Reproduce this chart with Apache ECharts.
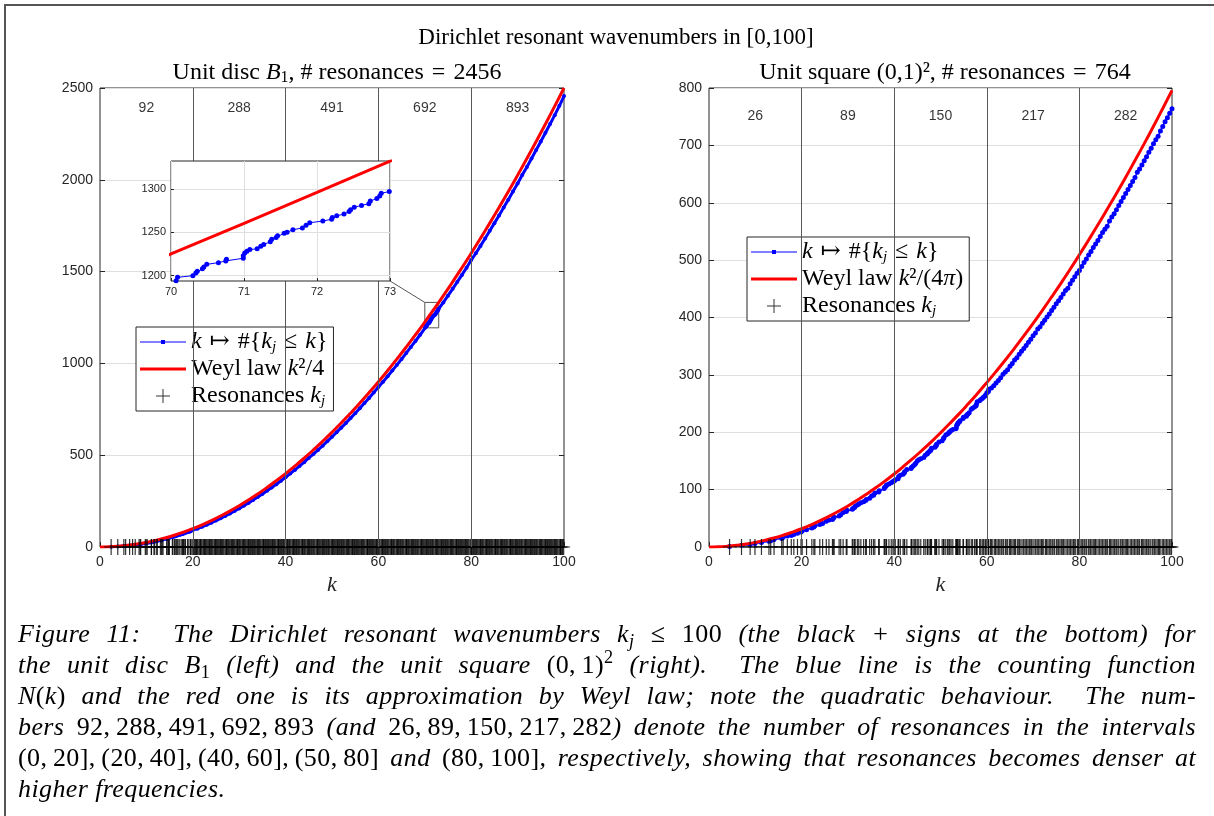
<!DOCTYPE html>
<html>
<head>
<meta charset="utf-8">
<title>Dirichlet resonant wavenumbers</title>
<script src="https://cdn.jsdelivr.net/npm/echarts@6/dist/echarts.min.js"></script>
<style>
  html, body { margin: 0; padding: 0; background: #fff; overflow: hidden; }
  #frame { position: absolute; left: 4px; top: 4px; width: 1400px; height: 1000px;
           border-left: 2px solid #555; border-top: 2px solid #555; }
  #chart { position: absolute; left: 0; top: 0; width: 1214px; height: 816px; }
  #caption { position: absolute; left: 18px; top: 618px; width: 1178px;
             font-family: 'Liberation Serif', 'DejaVu Serif', serif; font-style: italic;
             font-size: 26px; letter-spacing: 0.4px; line-height: 31px; color: #000; }
  #caption .ln { text-align: justify; text-align-last: justify; }
  #caption .ln.last { text-align: left; text-align-last: left; }
  #caption .m { font-style: normal; }
  #caption sub, #caption sup { font-size: 70%; line-height: 0; }
  #caption sub { vertical-align: -0.25em; }
  #caption sup { vertical-align: 0.55em; }
</style>
</head>
<body>
<div id="frame"></div>
<div id="chart"></div>
<div id="caption">
  <div class="ln">Figure 11:&nbsp; The Dirichlet resonant wavenumbers k<sub>j</sub> <span class="m">&le; 100</span> (the black + signs at the bottom) for</div>
  <div class="ln">the unit disc B<sub class="m">1</sub> (left) and the unit square <span class="m">(0,&thinsp;1)<sup>2</sup></span> (right).&nbsp; The blue line is the counting function</div>
  <div class="ln">N<span class="m">(</span>k<span class="m">)</span> and the red one is its approximation by Weyl law; note the quadratic behaviour.&nbsp; The num-</div>
  <div class="ln">bers <span class="m">92,&thinsp;288,&thinsp;491,&thinsp;692,&thinsp;893</span> (and <span class="m">26,&thinsp;89,&thinsp;150,&thinsp;217,&thinsp;282</span>) denote the number of resonances in the intervals</div>
  <div class="ln"><span class="m">(0,&thinsp;20],&thinsp;(20,&thinsp;40],&thinsp;(40,&thinsp;60],&thinsp;(50,&thinsp;80]</span> and <span class="m">(80,&thinsp;100]</span>, respectively, showing that resonances becomes denser at</div>
  <div class="ln last">higher frequencies.</div>
</div>
<script>
// counts per interval, written at the top of each panel
var bandMid = [10, 30, 50, 70, 90];
var bandEdges = [20, 40, 60, 80];
var discCounts = [92, 288, 491, 692, 893];
var squareCounts = [26, 89, 150, 217, 282];

// Weyl law curves (red)
var weylK = [0,2,4,6,8,10,12,14,16,18,20,22,24,26,28,30,32,34,36,38,40,42,44,46,48,50,
  52,54,56,58,60,62,64,66,68,70,72,74,76,78,80,82,84,86,88,90,92,94,96,98,100];
var weylDisc = [0,1,4,9,16,25,36,49,64,81,100,121,144,169,196,225,256,289,324,361,400,441,484,529,576,625,
  676,729,784,841,900,961,1024,1089,1156,1225,1296,1369,1444,1521,1600,1681,1764,1849,1936,2025,2116,2209,2304,2401,2500];
var weylSquare = [0,0.3,1.3,2.9,5.1,8.0,11.5,15.6,20.4,25.8,31.8,38.5,45.8,53.8,62.4,71.6,81.5,92.0,103.1,114.9,127.3,
  140.4,154.1,168.4,183.3,198.9,215.2,232.0,249.6,267.7,286.5,305.9,325.9,346.6,368.0,389.9,412.5,435.8,459.6,484.1,
  509.3,535.1,561.5,588.6,616.2,644.6,673.5,703.1,733.4,764.2,795.8];

// unit disc: separate resonances up to k=20 and their running count
var discRes = [2.40,3.83,5.14,5.52,6.38,7.02,7.59,8.42,8.65,8.77,9.76,9.94,10.17,11.07,11.09,11.62,11.79,12.23,12.34,
  13.02,13.32,13.35,13.59,14.37,14.48,14.80,14.82,14.93,15.59,15.70,16.04,16.22,16.47,16.70,17.00,17.24,17.62,17.80,
  17.96,18.07,18.29,18.43,18.90,18.98,19.41,19.55,19.62,19.99];
var discResN = [1,3,5,6,8,10,12,14,15,17,19,21,23,25,27,29,30,32,34,36,38,40,42,44,46,48,50,51,53,55,57,59,61,63,65,
  67,69,71,73,74,76,78,80,82,84,86,90,92];
// counting function read further along the curve (70..73 read in the zoom)
var discTailK = [21,22,23,24,25,26,27,28,29,30,31,32,33,34,35,36,37,38,39,40,41,42,43,44,45,46,47,48,49,50,
  51,52,53,54,55,56,57,58,59,60,61,62,63,64,65,66,67,68,69,
  70.07,70.09,70.30,70.34,70.36,70.43,70.45,70.49,70.65,70.75,70.76,70.99,70.99,71.01,71.04,71.08,71.18,71.23,71.27,
  71.36,71.38,71.44,71.46,71.55,71.59,71.67,71.80,71.85,71.90,72.08,72.20,72.21,72.27,72.37,72.44,72.46,72.51,72.61,
  72.71,72.73,72.82,72.86,72.88,72.99,
  74,75,76,77,78,79,80,81,82,83,84,85,86,87,88,89,90,91,92,93,94,95,96,97,98,99,100];
var discTailN = [100,110,121,132,144,156,169,182,196,210,225,240,256,272,289,306,324,342,361,380,400,420,441,462,485,
  506,529,552,576,600,625,650,675,702,729,756,784,812,841,871,900,930,961,992,1024,1056,1090,1122,1156,
  1194,1198,1200,1203,1205,1208,1210,1213,1215,1217,1219,1220,1223,1226,1228,1230,1231,1234,1236,1239,1242,1244,
  1246,1249,1250,1253,1255,1258,1261,1263,1265,1267,1269,1271,1274,1276,1279,1281,1283,1286,1289,1292,1295,1297,
  1332,1369,1406,1444,1482,1521,1563,1600,1640,1680,1722,1764,1806,1849,1892,1936,1980,2026,2070,2116,2162,2209,
  2256,2304,2352,2403,2456];
// marks in the solid strip past k=20
var discResTail = [20.3,20.7,21.0,21.5,21.8,22.3,22.6,23.0,23.5,23.8,24.2,24.7,25.0,25.4,25.9,26.2,26.6,27.1,27.4,27.8,
  28.3,28.6,29.0,29.5,29.8,30.2,30.7,31.0,31.4,31.9,32.2,32.6,33.0,33.4,33.9,34.2,34.6,35.1,35.4,35.8,36.2,36.6,37.1,
  37.4,37.8,38.3,38.6,39.0,39.4,39.8,40.3,40.6,41.0,41.5,41.8,42.2,42.6,43.0,43.5,43.8,44.2,44.7,45.0,45.4,45.8,46.2,
  46.7,47.0,47.4,47.9,48.2,48.6,49.0,49.4,49.9,50.2,50.6,51.1,51.4,51.8,52.2,52.6,53.1,53.4,53.8,54.3,54.6,55.0,55.4,
  55.8,56.3,56.6,57.0,57.5,57.8,58.2,58.6,59.0,59.5,59.8,60.2,60.7,61.0,61.4,61.8,62.2,62.7,63.0,63.4,63.9,64.2,64.6,
  65.0,65.4,65.9,66.2,66.6,67.1,67.4,67.8,68.2,68.6,69.1,69.4,69.8,70.3,70.6,71.0,71.4,71.8,72.3,72.6,73.0,73.5,73.8,
  74.2,74.6,75.0,75.5,75.8,76.2,76.7,77.0,77.4,77.8,78.2,78.7,79.0,79.4,79.9,80.2,80.6,81.0,81.4,81.9,82.2,82.6,83.1,
  83.4,83.8,84.2,84.6,85.1,85.4,85.8,86.3,86.6,87.0,87.4,87.8,88.3,88.6,89.0,89.5,89.8,90.2,90.6,91.0,91.5,91.8,92.2,
  92.7,93.0,93.4,93.8,94.2,94.7,95.0,95.4,95.9,96.2,96.6,97.0,97.4,97.9,98.2,98.6,99.1,99.4,99.8];

// unit square: separate resonances up to k=60 and their running count
var squareRes = [4.44,7.02,8.89,9.93,11.33,12.95,13.33,14.05,15.71,16.02,16.92,17.77,18.32,19.11,19.87,20.12,21.07,
  22.21,22.65,22.87,23.93,24.54,25.33,25.91,26.66,26.84,27.03,28.10,28.45,28.97,29.64,29.80,30.94,31.10,31.42,31.57,
  32.04,32.35,32.80,33.40,33.84,33.98,34.70,35.12,35.54,35.82,36.64,36.77,37.83,37.96,38.22,38.35,38.86,39.36,39.74,
  39.99,40.23,40.84,40.96,41.32,41.91,42.15,42.27,42.73,43.64,43.76,44.09,44.43,44.65,44.98,45.31,45.74,46.38,46.70,
  47.12,47.23,47.54,47.85,47.95,48.06,48.77,48.87,49.07,49.17,49.67,50.36,50.66,50.75,51.14,51.53,51.81,52.00,52.29,
  52.66,53.31,53.41,53.50,53.68,53.78,54.05,54.23,54.87,54.96,55.58,55.67,55.93,56.20,56.64,56.90,57.33,57.67,57.76,
  57.93,58.44,58.69,59.02,59.28,59.61,59.77,60.02,60.35,60.43];
var squareResN = [1,3,4,6,8,10,11,13,15,17,19,20,22,24,26,28,30,33,35,37,39,41,45,47,48,50,52,54,56,60,62,64,66,67,69,
  71,73,75,77,79,81,83,85,89,90,94,96,98,102,104,106,108,110,112,114,115,117,119,123,125,127,129,131,135,137,139,141,
  144,146,150,152,154,156,160,162,164,166,168,170,172,174,175,177,179,183,185,189,191,195,197,199,201,203,205,206,208,
  212,214,216,218,220,224,226,228,230,232,234,240,242,244,246,249,253,255,257,259,261,263,265,269,271,275];
var squareTailK = [61,61.5,62,62.5,63,63.5,64,64.5,65,65.5,66,66.5,67,67.5,68,68.5,69,69.5,70,70.5,71,71.5,72,72.5,
  73,73.5,74,74.5,75,75.5,76,76.5,77,77.5,78,78.5,79,79.5,80,80.5,81,81.5,82,82.5,83,83.5,84,84.5,85,85.5,86,86.5,
  87,87.5,88,88.5,89,89.5,90,90.5,91,91.5,92,92.5,93,93.5,94,94.5,95,95.5,96,96.5,97,97.5,98,98.5,99,99.5,100];
var squareTailN = [277,281,286,290,295,301,305,309,315,320,326,330,336,341,346,351,357,362,368,373,380,384,390,395,
  401,406,412,418,424,429,435,441,447,451,459,465,471,477,482,489,496,502,509,515,522,528,534,541,548,554,559,568,
  575,581,588,595,602,609,616,623,630,637,644,653,659,666,673,680,688,695,703,710,716,725,733,741,748,756,764];
var squareResTail = [60.8,61.0,61.3,61.7,61.9,62.2,62.5,62.8,63.1,63.3,63.6,64.0,64.2,64.5,64.9,65.1,65.4,65.7,66.0,
  66.2,66.6,66.9,67.1,67.4,67.8,68.0,68.3,68.6,68.9,69.2,69.5,69.7,70.0,70.4,70.6,70.9,71.2,71.5,71.8,72.0,72.3,72.7,
  72.9,73.2,73.5,73.8,74.1,74.3,74.6,75.0,75.2,75.5,75.8,76.1,76.4,76.6,76.9,77.3,77.5,77.8,78.1,78.4,78.7,78.9,79.2,
  79.6,79.8,80.1,80.4,80.7,81.0,81.2,81.5,81.9,82.1,82.4,82.7,83.0,83.3,83.5,83.8,84.2,84.4,84.7,85.0,85.3,85.6,85.8,
  86.1,86.5,86.7,87.0,87.3,87.6,87.9,88.1,88.4,88.8,89.0,89.3,89.6,89.9,90.2,90.4,90.7,91.1,91.3,91.6,91.9,92.2,92.5,
  92.7,93.0,93.4,93.6,93.9,94.2,94.5,94.8,95.0,95.3,95.7,95.9,96.2,96.5,96.8,97.1,97.3,97.6,98.0,98.2,98.5,98.8,99.1,
  99.4,99.6,99.9];

// zoom window of the inset: k from 70 to 73, N from 1193.8 to 1332.25
var insetBox = [70, 73, 1193.8, 1332.25];

var SERIF = "'Liberation Serif', 'DejaVu Serif', serif";
var SANS = "'Liberation Sans', Arial, sans-serif";
var AXC = '#262626';
var REL = '\u2004'; // wider space around relations, as in the LaTeX labels

function zip(a, b) {
  return a.map(function (v, i) { return [v, b[i]]; });
}
function sum(a) {
  return a.reduce(function (s, v) { return s + v; }, 0);
}
function plain(v) {
  return String(v);
}

var discBlue = zip(discRes, discResN).concat(zip(discTailK, discTailN));
var squareBlue = zip(squareRes, squareResN).concat(zip(squareTailK, squareTailN));

function xMain(grid) {
  return {
    type: 'value', gridIndex: grid, min: 0, max: 100, interval: 20,
    name: 'k', nameLocation: 'middle', nameGap: 27,
    nameTextStyle: { fontFamily: SERIF, fontStyle: 'italic', fontSize: 22, color: AXC },
    axisLine: { show: false },
    axisTick: { inside: true, length: 5, lineStyle: { color: AXC } },
    axisLabel: { margin: 8, fontFamily: SANS, fontSize: 14, color: AXC, formatter: plain },
    splitLine: { show: false }
  };
}
function yMain(grid, max, step, side) {
  return {
    type: 'value', gridIndex: grid, min: 0, max: max, interval: step, position: side,
    axisLine: { show: false },
    axisTick: { inside: true, length: 5, lineStyle: { color: AXC } },
    axisLabel: { show: side === 'left', margin: 7, fontFamily: SANS, fontSize: 14, color: AXC, formatter: plain },
    splitLine: { show: side === 'left', lineStyle: { color: '#dfdfdf' } }
  };
}

function bandSeries(xi, yi, counts, yPos) {
  return {
    type: 'scatter', xAxisIndex: xi, yAxisIndex: yi, silent: true, z: 2,
    data: bandMid.map(function (k, i) { return [k, yPos, counts[i]]; }),
    symbolSize: 1, itemStyle: { color: 'rgba(0,0,0,0)' },
    label: {
      show: true, position: 'inside', color: '#000', fontFamily: SANS, fontSize: 14,
      formatter: function (p) { return p.value[2]; }
    },
    markLine: {
      silent: true, symbol: ['none', 'none'], label: { show: false },
      lineStyle: { color: '#595959', width: 1, type: 'solid' },
      data: bandEdges.map(function (k) { return { xAxis: k }; })
    }
  };
}

// black + marks at the bottom: a vertical bar and a horizontal arm per resonance
function plusSeries(name, xi, yi, ks, w) {
  var pts = ks.map(function (k) { return [k, 0]; });
  return [
    { type: 'scatter', name: name, xAxisIndex: xi, yAxisIndex: yi, data: pts, silent: true, clip: false, z: 4,
      symbol: 'rect', symbolSize: [w, 16], itemStyle: { color: '#000' } },
    { type: 'scatter', name: name, xAxisIndex: xi, yAxisIndex: yi, data: pts, silent: true, clip: false, z: 4,
      symbol: 'rect', symbolSize: [14, 1], itemStyle: { color: '#000' } }
  ];
}

var legendRich = {
  i: { fontFamily: SERIF, fontStyle: 'italic', fontSize: 24, lineHeight: 26, color: '#000' },
  s: { fontFamily: SERIF, fontStyle: 'italic', fontSize: 15, lineHeight: 15, verticalAlign: 'bottom', color: '#000' }
};
var countText = '{i|k}' + REL + '\u21A6' + REL + '#{{i|k}{s|j}' + REL + '\u2264' + REL + '{i|k}}';
var legendText = {
  countDisc: countText,
  countSquare: countText,
  weylDisc: 'Weyl law {i|k}\u00B2/4',
  weylSquare: 'Weyl law {i|k}\u00B2/(4{i|\u03C0})',
  resDisc: 'Resonances {i|k}{s|j}',
  resSquare: 'Resonances {i|k}{s|j}'
};
var blueIcon = 'path://M0,6.5h46v1h-46z M21,5h4v4h-4z';
var redIcon = 'path://M0,0h46v3h-46z';
var plusIcon = 'path://M6.5,0h1v14h-1z M0,6.5h14v1h-14z';

function legendBox(left, top, names) {
  return {
    left: left, top: top, orient: 'vertical', selectedMode: false,
    itemWidth: 46, itemHeight: 14, itemGap: 1, padding: [2, 6, 2, 4],
    backgroundColor: '#fff', borderColor: AXC, borderWidth: 1, borderRadius: 0,
    itemStyle: { borderWidth: 0 },
    data: [
      { name: names[0], icon: blueIcon },
      { name: names[1], icon: redIcon },
      { name: names[2], icon: plusIcon }
    ],
    formatter: function (n) { return legendText[n]; },
    textStyle: { fontFamily: SERIF, fontSize: 24, lineHeight: 26, color: '#000', rich: legendRich }
  };
}

var titleRich = {
  i: { fontFamily: SERIF, fontStyle: 'italic', fontSize: 24, lineHeight: 26, color: '#000' },
  s: { fontFamily: SERIF, fontSize: 16, lineHeight: 16, verticalAlign: 'bottom', color: '#000' }
};
var mainTitleStyle = { fontFamily: SERIF, fontSize: 23, lineHeight: 26, fontWeight: 'normal', color: '#000' };
var subTitleStyle = { fontFamily: SERIF, fontSize: 24, lineHeight: 26, fontWeight: 'normal', color: '#000', rich: titleRich };

var chart = echarts.init(document.getElementById('chart'));

var option = {
  animation: false,
  backgroundColor: 'transparent',
  title: [
    { text: 'Dirichlet resonant wavenumbers in [0,100]', left: 611, top: 20, textAlign: 'center', textStyle: mainTitleStyle },
    { text: 'Unit disc {i|B}{s|1}, # resonances' + REL + '=' + REL + sum(discCounts),
      left: 332, top: 55, textAlign: 'center', textStyle: subTitleStyle },
    { text: 'Unit square (0,1)\u00B2, # resonances' + REL + '=' + REL + sum(squareCounts),
      left: 940, top: 55, textAlign: 'center', textStyle: subTitleStyle }
  ],
  legend: [
    legendBox(136, 327, ['countDisc', 'weylDisc', 'resDisc']),
    legendBox(747, 237, ['countSquare', 'weylSquare', 'resSquare'])
  ],
  grid: [
    { left: 100, top: 88, width: 464, height: 459, show: true, borderColor: AXC, borderWidth: 1, backgroundColor: 'transparent' },
    { left: 171, top: 161, width: 219, height: 120, show: true, borderColor: AXC, borderWidth: 1, backgroundColor: '#fff', zlevel: 1 },
    { left: 709, top: 88, width: 463, height: 459, show: true, borderColor: AXC, borderWidth: 1, backgroundColor: 'transparent' }
  ],
  xAxis: [
    xMain(0),
    {
      type: 'value', gridIndex: 1, min: insetBox[0], max: insetBox[1], interval: 1, zlevel: 1,
      axisLine: { show: false },
      axisTick: { inside: true, length: 3, lineStyle: { color: AXC } },
      axisLabel: { margin: 5, fontFamily: SANS, fontSize: 11, color: AXC, formatter: plain },
      splitLine: { show: true, lineStyle: { color: '#dfdfdf' } }
    },
    xMain(2)
  ],
  yAxis: [
    yMain(0, 2500, 500, 'left'),
    {
      type: 'value', gridIndex: 1, min: insetBox[2], max: insetBox[3], zlevel: 1,
      axisLine: { show: false },
      axisTick: { inside: true, length: 3, customValues: [1200, 1250, 1300], lineStyle: { color: AXC } },
      axisLabel: { margin: 5, customValues: [1200, 1250, 1300], fontFamily: SANS, fontSize: 11, color: AXC, formatter: plain },
      splitLine: { show: true, lineStyle: { color: '#dfdfdf' } }
    },
    yMain(2, 800, 100, 'left'),
    yMain(0, 2500, 500, 'right'),
    yMain(2, 800, 100, 'right')
  ],
  series: [
    bandSeries(0, 0, discCounts, 2391),
    {
      type: 'line', name: 'countDisc', xAxisIndex: 0, yAxisIndex: 0, data: discBlue, z: 2,
      symbol: 'circle', symbolSize: 4, showSymbol: true, clip: true,
      lineStyle: { width: 3, color: '#0000ff' }, itemStyle: { color: '#0000ff' }
    },
    {
      type: 'line', name: 'weylDisc', xAxisIndex: 0, yAxisIndex: 0, data: zip(weylK, weylDisc), z: 3,
      smooth: true, symbol: 'none', clip: true,
      lineStyle: { width: 3, color: '#ff0000' }, itemStyle: { color: '#ff0000' },
      markArea: {
        silent: true, label: { show: false },
        itemStyle: { color: 'rgba(0,0,0,0)', borderColor: '#555', borderWidth: 1 },
        data: [[{ coord: [insetBox[0], insetBox[2]] }, { coord: [insetBox[1], insetBox[3]] }]]
      }
    }
  ]
  .concat(plusSeries('resDisc', 0, 0, discRes, 1.2))
  .concat(plusSeries('resDisc', 0, 0, discResTail, 2.4))
  .concat([
    {
      type: 'line', name: 'insetCount', xAxisIndex: 1, yAxisIndex: 1, data: discBlue, zlevel: 1, z: 2,
      symbol: 'circle', symbolSize: 5, clip: true,
      lineStyle: { width: 1, color: '#0000ff' }, itemStyle: { color: '#0000ff' }
    },
    {
      type: 'line', name: 'insetWeyl', xAxisIndex: 1, yAxisIndex: 1, data: zip(weylK, weylDisc), zlevel: 1, z: 3,
      smooth: true, symbol: 'none', clip: true,
      lineStyle: { width: 3, color: '#ff0000' }, itemStyle: { color: '#ff0000' }
    },
    bandSeries(2, 2, squareCounts, 751),
    {
      type: 'line', name: 'countSquare', xAxisIndex: 2, yAxisIndex: 2, data: squareBlue, z: 2,
      symbol: 'circle', symbolSize: 5, showSymbol: true, clip: true,
      lineStyle: { width: 1.5, color: '#0000ff' }, itemStyle: { color: '#0000ff' }
    },
    {
      type: 'line', name: 'weylSquare', xAxisIndex: 2, yAxisIndex: 2, data: zip(weylK, weylSquare), z: 3,
      smooth: true, symbol: 'none', clip: true,
      lineStyle: { width: 3, color: '#ff0000' }, itemStyle: { color: '#ff0000' }
    }
  ])
  .concat(plusSeries('resSquare', 2, 2, squareRes, 1.2))
  .concat(plusSeries('resSquare', 2, 2, squareResTail, 1.2))
};

chart.setOption(option);

// connector from the inset corner to the zoom box
var a = chart.convertToPixel({ gridIndex: 1 }, [insetBox[1], insetBox[2]]);
var b = chart.convertToPixel({ gridIndex: 0 }, [insetBox[0], insetBox[3]]);
chart.setOption({
  graphic: [{
    type: 'line', silent: true,
    shape: { x1: a[0], y1: a[1], x2: b[0], y2: b[1] },
    style: { stroke: '#555', lineWidth: 1 }
  }]
});
</script>
</body>
</html>
